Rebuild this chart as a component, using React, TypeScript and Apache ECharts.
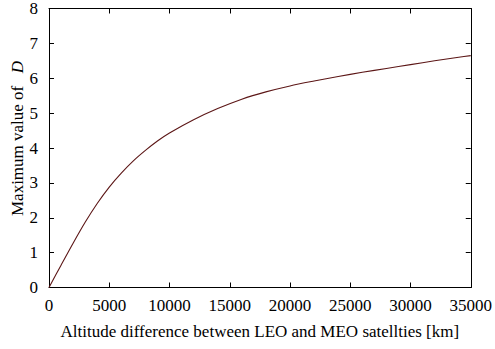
import React, { useEffect, useRef } from "react";
import * as echarts from "echarts";

const altitudes = [0, 1000, 2000, 3000, 4000, 5000, 6000, 7000, 8000, 9000, 10000, 12000, 14000, 16000, 18000, 20000, 22000, 24000, 26000, 28000, 30000, 32000, 34000, 35000];
const maxD = [0, 0.64, 1.27, 1.87, 2.41, 2.88, 3.28, 3.63, 3.93, 4.2, 4.43, 4.81, 5.13, 5.4, 5.61, 5.78, 5.92, 6.05, 6.17, 6.28, 6.39, 6.5, 6.6, 6.65];

const FONT = "Liberation Serif";

export default function App() {
  const ref = useRef<HTMLDivElement>(null);
  useEffect(() => {
    if (!ref.current) return;
    const chart = echarts.init(ref.current, null, { renderer: "svg" });
    const data = altitudes.map((x, i) => [x, maxD[i]]);
    const axisLine = { show: true, onZero: false, lineStyle: { color: "#000", width: 1 } };
    const axisTick = { show: true, inside: true, length: 5, lineStyle: { color: "#000", width: 1 } };
    chart.setOption({
      animation: false,
      backgroundColor: "#fff",
      textStyle: { fontFamily: FONT },
      grid: { left: 49, right: 20, top: 6, bottom: 61.5 },
      graphic: [
        {
          type: "text", x: 17, y: 138.5, rotation: Math.PI / 2,
          style: {
            text: "Maximum value of  {i|D}",
            fontFamily: FONT, fontSize: 17, fill: "#000",
            align: "center", verticalAlign: "middle",
            rich: { i: { fontStyle: "italic", fontFamily: FONT, fontSize: 17, fill: "#000", padding: [0, 0, 0, 4] } },
          },
        },
      ],
      xAxis: [
        {
          type: "value", min: 0, max: 35000, interval: 5000,
          axisLine, axisTick, splitLine: { show: false },
          axisLabel: { color: "#000", fontFamily: FONT, fontSize: 17, margin: 9, formatter: (v: number) => String(v) },
          name: "Altitude difference between LEO and MEO satellties [km]",
          nameLocation: "middle", nameGap: 35,
          nameTextStyle: { color: "#000", fontFamily: FONT, fontSize: 17 },
        },
        {
          type: "value", min: 0, max: 35000, interval: 5000, position: "top",
          axisLine, axisTick, splitLine: { show: false }, axisLabel: { show: false },
        },
      ],
      yAxis: [
        {
          type: "value", min: 0, max: 8, interval: 1,
          axisLine, axisTick, splitLine: { show: false },
          axisLabel: { color: "#000", fontFamily: FONT, fontSize: 17, margin: 11 },
        },
        {
          type: "value", min: 0, max: 8, interval: 1, position: "right",
          axisLine, axisTick, splitLine: { show: false }, axisLabel: { show: false },
        },
      ],
      series: [
        {
          type: "line", data, smooth: 0.3, showSymbol: false,
          lineStyle: { color: "#5c1616", width: 1.1 },
        },
      ],
    });
    return () => chart.dispose();
  }, []);
  return <div ref={ref} style={{ position: "fixed", left: 0, top: 0, width: 495, height: 349 }} />;
}
